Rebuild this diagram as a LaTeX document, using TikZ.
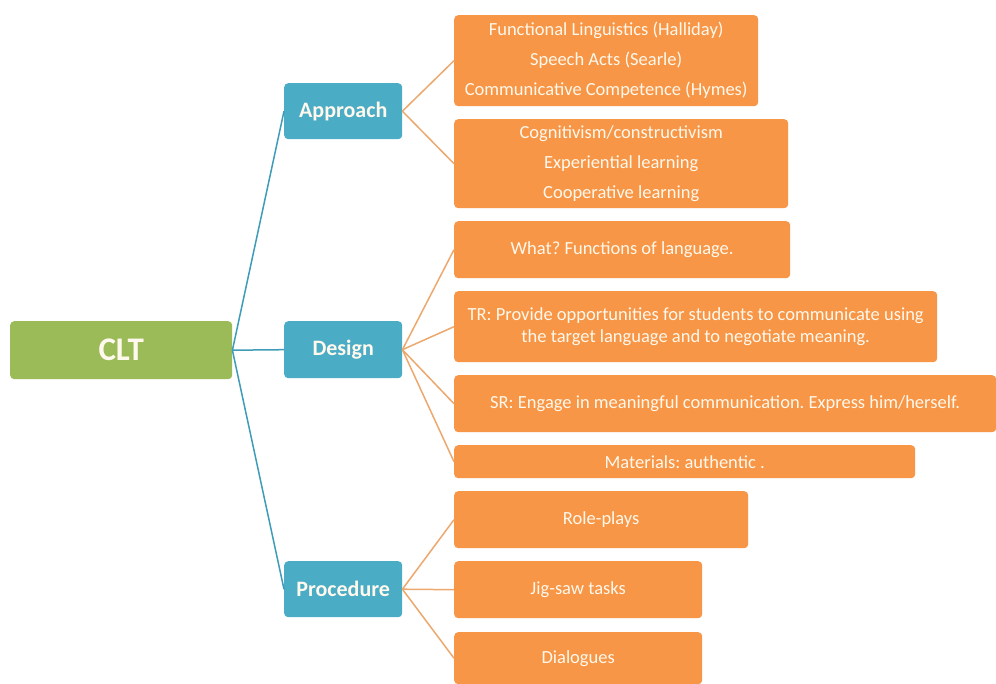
\documentclass[tikz,border=0pt]{standalone}
\usepackage{fontspec}
\setmainfont{Carlito}
\frenchspacing
\definecolor{cltgreen}{HTML}{9BBB59}
\definecolor{stageblue}{HTML}{4BACC6}
\definecolor{itemorange}{HTML}{F79646}
\definecolor{linkorange}{HTML}{EDA86E}
\definecolor{linkblue}{HTML}{3E9CB8}
\definecolor{boxtext}{HTML}{FFF8EC}
\tikzset{
  box/.style={anchor=north west, inner sep=0pt, rounded corners=4pt, text=boxtext, align=center},
  root/.style={box, fill=cltgreen, font=\bfseries\fontsize{33}{33}\selectfont},
  stage/.style={box, fill=stageblue, font=\bfseries\fontsize{22}{22}\selectfont},
  item/.style={box, fill=itemorange, font=\fontsize{18.5}{22}\selectfont},
  bluelink/.style={draw=linkblue, line width=1.5pt},
  orangelink/.style={draw=linkorange, line width=1.5pt},
}
\begin{document}
\begin{tikzpicture}[x=1pt, y=-1pt]
            \useasboundingbox[fill=white] (0,0) rectangle (996,684);
            \node[root, minimum width=222pt, minimum height=58pt] (clt) at (10,321) {CLT};
            \node[stage, minimum width=118pt, minimum height=56pt] (approach) at (284,83) {Approach};
            \node[stage, minimum width=118pt, minimum height=57pt] (design) at (284,321) {Design};
            \node[stage, minimum width=118pt, minimum height=56pt] (procedure) at (284,561) {Procedure};
            \node[item, minimum width=304pt, minimum height=91pt, font=\fontsize{18.5}{30}\selectfont] (theories) at (454,15) {Functional Linguistics (Halliday)\\Speech Acts (Searle)\\Communicative Competence (Hymes)};
            \node[item, minimum width=334pt, minimum height=89pt, font=\fontsize{18.5}{30}\selectfont] (learning) at (454,119) {Cognitivism/constructivism\\Experiential learning\\Cooperative learning};
            \node[item, minimum width=336pt, minimum height=57pt] (what) at (454,221) {What? Functions of language.};
            \node[item, minimum width=483pt, minimum height=71pt] (teacher) at (454,291) {TR: Provide opportunities for students to communicate using\\the target language and to negotiate meaning.};
            \node[item, minimum width=542pt, minimum height=57pt] (student) at (454,375) {SR: Engage in meaningful communication. Express him/herself.};
            \node[item, minimum width=461pt, minimum height=33pt] (materials) at (454,445) {Materials: authentic .};
            \node[item, minimum width=294pt, minimum height=57pt] (roleplays) at (454,491) {Role-plays};
            \node[item, minimum width=248pt, minimum height=57pt] (jigsaw) at (454,561) {Jig-saw tasks};
            \node[item, minimum width=248pt, minimum height=52pt] (dialogues) at (454,632) {Dialogues};
            \draw[bluelink] (clt.east) -- (approach.west);
            \draw[bluelink] (clt.east) -- (design.west);
            \draw[bluelink] (clt.east) -- (procedure.west);
            \draw[orangelink] (approach.east) -- (theories.west);
            \draw[orangelink] (approach.east) -- (learning.west);
            \draw[orangelink] (design.east) -- (what.west);
            \draw[orangelink] (design.east) -- (teacher.west);
            \draw[orangelink] (design.east) -- (student.west);
            \draw[orangelink] (design.east) -- (materials.west);
            \draw[orangelink] (procedure.east) -- (roleplays.west);
            \draw[orangelink] (procedure.east) -- (jigsaw.west);
            \draw[orangelink] (procedure.east) -- (dialogues.west);
        \end{tikzpicture}
\end{document}
